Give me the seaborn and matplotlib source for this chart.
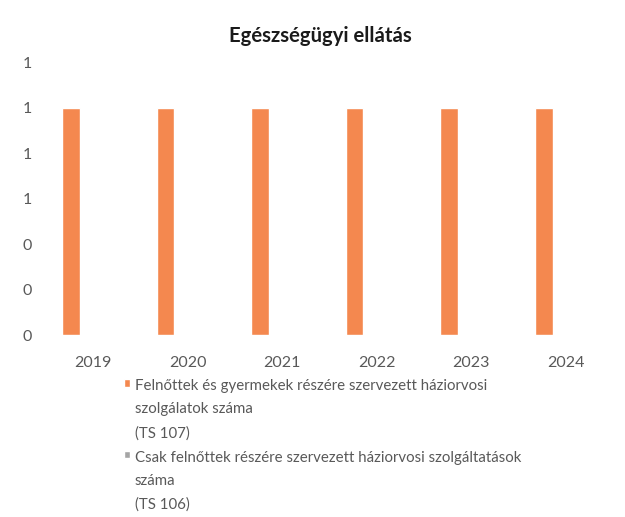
import matplotlib
matplotlib.use("Agg")
import matplotlib.pyplot as plt
import seaborn as sns
import pandas as pd
from matplotlib.ticker import StrMethodFormatter
from matplotlib.offsetbox import HPacker

years = ["2019", "2020", "2021", "2022", "2023", "2024"]
series_names = [
    "Felnőttek és gyermekek részére szervezett háziorvosi\nszolgálatok száma\n(TS 107)",
    "Csak felnőttek részére szervezett háziorvosi szolgáltatások\nszáma\n(TS 106)",
]
values_ts107 = [1, 1, 1, 1, 1, 1]
values_ts106 = [0, 0, 0, 0, 0, 0]
y_ticks = [0, 0.2, 0.4, 0.6, 0.8, 1.0, 1.2]
title = "Egészségügyi ellátás"

colors = ["#F4884F", "#A5A5A5"]

df = pd.DataFrame({
    "year": years * 2,
    "series": [series_names[0]] * len(years) + [series_names[1]] * len(years),
    "value": values_ts107 + values_ts106,
})

sns.set_theme(style="white")
plt.rcParams["font.family"] = ["Lato", "DejaVu Sans"]

fig = plt.figure(figsize=(6.25, 5.17), dpi=100)
ax = fig.add_axes([0.073, 0.352, 0.908, 0.528])

sns.barplot(data=df, x="year", y="value", hue="series", hue_order=series_names,
            palette=colors, width=0.93, gap=0.6, ax=ax, saturation=1, errorbar=None)

ax.set_ylim(0, 1.2)
ax.set_xlim(-0.5, 5.5)
ax.set_yticks(y_ticks)
ax.yaxis.set_major_formatter(StrMethodFormatter("{x:.0f}"))
ax.set_xlabel("")
ax.set_ylabel("")
for s in ax.spines.values():
    s.set_visible(False)
ax.tick_params(axis="y", length=0, pad=10, labelsize=11.5, labelcolor="#595959")
ax.tick_params(axis="x", length=0, pad=15, labelsize=11.5, labelcolor="#595959")

fig.text(0.512, 1 - 36 / 517, title, ha="center", va="center",
         fontsize=14.6, fontweight="bold", color="#1a1a1a")

sns.move_legend(ax, loc="upper left", bbox_to_anchor=(124 / 625, 1 - 379 / 517),
                bbox_transform=fig.transFigure, title=None, frameon=False,
                fontsize=10.8, handlelength=0.42, handleheight=0.42,
                handletextpad=0.3, borderpad=0, borderaxespad=0, labelspacing=0.68)
leg = ax.get_legend()
for t in leg.get_texts():
    t.set_color("#595959")
    t.set_linespacing(1.85)
for hp in leg.findobj(match=HPacker):
    hp.align = "top"

fig.savefig("out.png", dpi=100)
